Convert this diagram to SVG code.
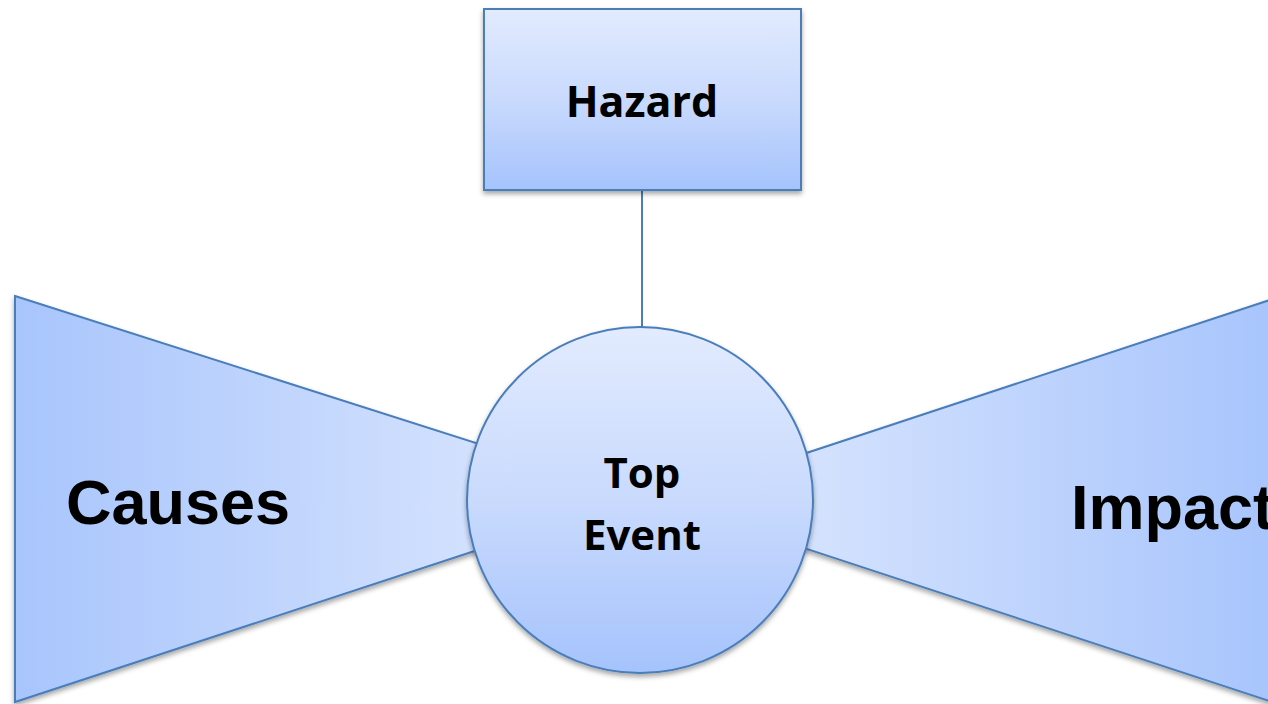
<svg xmlns="http://www.w3.org/2000/svg" width="1268" height="704" viewBox="0 0 1268 704">
<defs>
<linearGradient id="gv" x1="0" y1="0" x2="0" y2="1">
<stop offset="0" stop-color="#e2ebfe"/><stop offset="0.5" stop-color="#c9dafd"/><stop offset="1" stop-color="#a5c3fc"/>
</linearGradient>
<linearGradient id="gl" x1="0" y1="0" x2="1" y2="0">
<stop offset="0" stop-color="#a8c5fc"/><stop offset="1" stop-color="#e2ebfe"/>
</linearGradient>
<linearGradient id="gr" x1="0" y1="0" x2="1" y2="0">
<stop offset="0" stop-color="#e2ebfe"/><stop offset="1" stop-color="#a5c3fc"/>
</linearGradient>
<filter id="sh" x="-10%" y="-10%" width="120%" height="125%">
<feDropShadow dx="0" dy="3" stdDeviation="2.5" flood-color="#000" flood-opacity="0.35"/>
</filter>
</defs>
<style>
.s{stroke:#4a7ebb;stroke-width:2}
.t{font-family:"Open Sans","Liberation Sans",sans-serif;font-weight:bold;fill:#000;text-anchor:middle}
.a{font-family:"Liberation Sans",Arial,sans-serif;font-weight:bold;fill:#000}
</style>
<g id="causes">
<polygon class="s" points="15,296 642,496 15,702" fill="url(#gl)" filter="url(#sh)"/>
<text class="a" x="66" y="524" font-size="63">Causes</text>
</g>
<g id="impact">
<polygon class="s" points="1300,290 661,501 1300,711" fill="url(#gr)" filter="url(#sh)"/>
<text class="a" x="1071" y="529" font-size="63">Impact</text>
</g>
<g id="connectors">
<line class="s" x1="642" y1="190" x2="642" y2="327" fill="none"/>
</g>
<g id="hazard">
<rect class="s" x="484" y="9" width="317" height="181" fill="url(#gv)" filter="url(#sh)"/>
<text class="t" x="642" y="117" font-size="43">Hazard</text>
</g>
<g id="top-event">
<circle class="s" cx="640" cy="500" r="173" fill="url(#gv)" filter="url(#sh)"/>
<text class="t" x="642" y="488" font-size="42">Top</text>
<text class="t" x="642" y="550" font-size="42">Event</text>
</g>
</svg>
